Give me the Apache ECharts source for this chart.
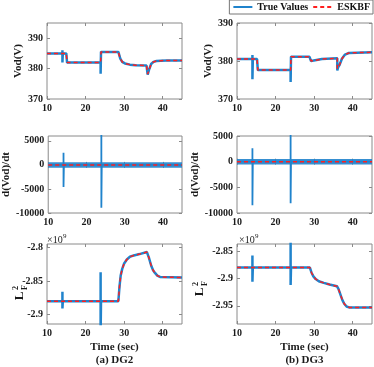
<!DOCTYPE html>
<html>
<head>
<meta charset="utf-8">
<script src="https://cdn.jsdelivr.net/npm/echarts@6.0.0/dist/echarts.min.js"></script>
<style>
  html, body { margin: 0; padding: 0; background: #fff; }
  #main { width: 374px; height: 367px; }
</style>
</head>
<body>
<div id="main"></div>
<script>
// tick labels
var xTicks = [10, 20, 30, 40];
var vodTicks = [370, 380, 390];
var dvTicks = [-10000, -5000, 0, 5000];
var lTicks2 = [-2.9, -2.85, -2.8];
var lTicks3 = [-2.95, -2.9, -2.85];

// Vod, DG2
var tVod2    = [10, 14, 14, 14, 14.1, 15.0, 15.2, 23.9, 23.9, 24.0, 28.5, 29.0, 29.5, 30.2, 31.5, 33.0, 35.8, 36.1, 36.5, 37.0, 37.6, 38.4, 39.5, 41.0, 45];
var vodTrue2 = [385, 385, 386, 382, 385, 385, 382, 382, 378.3, 385.5, 385.5, 383.3, 382.2, 381.7, 381.3, 381.1, 381.0, 378.0, 379.8, 381.5, 382.2, 382.5, 382.6, 382.7, 382.7];
var vodEst2  = [385, 385, 385, 385, 385, 385, 382, 382, 382, 385.5, 385.5, 383.3, 382.2, 381.7, 381.3, 381.1, 381.0, 378.2, 379.8, 381.5, 382.2, 382.5, 382.6, 382.7, 382.7];

// Vod, DG3
var tVod3    = [10, 14, 14, 14, 14.1, 15.2, 15.4, 23.9, 23.9, 24.0, 28.8, 29.2, 29.6, 32.0, 36.0, 36.0, 36.2, 36.6, 37.2, 38.0, 39.0, 41.0, 45];
var vodTrue3 = [380.5, 380.5, 381.6, 375.2, 380.5, 380.5, 377.6, 377.6, 374.5, 381.1, 381.1, 380.0, 380.2, 380.5, 380.7, 377.5, 378.3, 379.0, 380.6, 381.7, 382.1, 382.2, 382.3];
var vodEst3  = [380.5, 380.5, 380.5, 380.5, 380.5, 380.5, 377.6, 377.6, 377.6, 381.1, 381.1, 380.0, 380.2, 380.5, 380.7, 378.0, 378.3, 379.0, 380.6, 381.7, 382.1, 382.2, 382.3];

// d(Vod)/dt
var tDv     = [10, 14, 14, 14, 14.1, 23.9, 23.9, 23.9, 24.0, 45];
var dvTrue2 = [0, 0, 2500, -4600, 0, 0, 7000, -8900, 0, 0];
var dvTrue3 = [0, 0, 2600, -8500, 0, 0, 5500, -8100, 0, 0];
var tDvEst  = [10, 45];
var dvEst   = [0, 0];

// L_F^2 (x 1e9), DG2
var tL2    = [10, 14, 14, 14, 14.1, 23.9, 23.9, 23.9, 24.0, 28.5, 28.8, 29.1, 29.5, 30.0, 30.7, 31.5, 32.5, 34.0, 35.9, 36.4, 37.0, 37.5, 38.0, 38.6, 39.3, 45];
var lTrue2 = [-2.88, -2.88, -2.866, -2.891, -2.88, -2.88, -2.837, -2.93, -2.88, -2.88, -2.858, -2.842, -2.832, -2.824, -2.818, -2.814, -2.812, -2.810, -2.807, -2.815, -2.827, -2.834, -2.838, -2.842, -2.844, -2.845];
var lEst2  = [-2.88, -2.88, -2.88, -2.88, -2.88, -2.88, -2.88, -2.88, -2.88, -2.88, -2.858, -2.842, -2.832, -2.824, -2.818, -2.814, -2.812, -2.810, -2.807, -2.815, -2.827, -2.834, -2.838, -2.842, -2.844, -2.845];

// L_F^2 (x 1e9), DG3
var tL3    = [10, 14, 14, 14, 14.1, 23.9, 23.9, 23.9, 24.0, 28.9, 29.3, 29.8, 30.4, 31.2, 32.5, 34.0, 35.9, 36.3, 36.8, 37.3, 37.8, 38.4, 39.2, 45];
var lTrue3 = [-2.88, -2.88, -2.858, -2.906, -2.88, -2.88, -2.83, -2.912, -2.88, -2.88, -2.889, -2.896, -2.901, -2.905, -2.908, -2.911, -2.914, -2.919, -2.929, -2.939, -2.946, -2.951, -2.953, -2.953];
var lEst3  = [-2.88, -2.88, -2.88, -2.88, -2.88, -2.88, -2.88, -2.88, -2.88, -2.88, -2.889, -2.896, -2.901, -2.905, -2.908, -2.911, -2.914, -2.919, -2.929, -2.939, -2.946, -2.951, -2.953, -2.953];

var FONT = 'Liberation Serif';
var BLUE = '#2083cc';
var RED = '#ff1f1f';
var AXIS = '#8a8a8a';
var INK = '#1a1a1a';

function pairs(t, v) {
  return t.map(function (x, k) { return [x, v[k]]; });
}

var panels = [
  { left: 47,  top: 23,  h: 76, yr: [370, 395], ticks: vodTicks, name: 'Vod(V)', gap: 17, t: tVod2, y: vodTrue2, te: tVod2, ye: vodEst2 },
  { left: 237, top: 23,  h: 76, yr: [370, 390], ticks: vodTicks, name: 'Vod(V)', gap: 17, t: tVod3, y: vodTrue3, te: tVod3, ye: vodEst3 },
  { left: 47,  top: 136, h: 77, yr: [-10000, 6000], ticks: dvTicks, name: 'd(Vod)/dt', gap: 19, t: tDv, y: dvTrue2, te: tDvEst, ye: dvEst, band: true },
  { left: 237, top: 136, h: 77, yr: [-10000, 5000], ticks: dvTicks, name: 'd(Vod)/dt', gap: 21, t: tDv, y: dvTrue3, te: tDvEst, ye: dvEst, band: true },
  { left: 47,  top: 244, h: 80, yr: [-2.914, -2.795], ticks: lTicks2, name: '', gap: 20, t: tL2, y: lTrue2, te: tL2, ye: lEst2, bottom: true },
  { left: 237, top: 244, h: 80, yr: [-2.983, -2.837], ticks: lTicks3, name: '', gap: 20, t: tL3, y: lTrue3, te: tL3, ye: lEst3, bottom: true }
];

var tickStyle = { color: AXIS, width: 1 };
function plain(v) { return String(v); }
function labelOpt(ticks) {
  return { customValues: ticks, margin: 4, formatter: plain,
    fontFamily: FONT, fontWeight: 'bold', fontSize: 10, color: INK };
}

var grid = [], xAxis = [], yAxis = [], trueSeries = [], estSeries = [];

panels.forEach(function (p, i) {
  grid.push({ left: p.left, top: p.top, width: 135, height: p.h, show: true,
    borderColor: AXIS, borderWidth: 1, backgroundColor: '#fff' });
  xAxis.push({
    gridIndex: i, type: 'value', min: 10, max: 45,
    axisLine: { show: false },
    axisTick: { inside: true, length: 3, customValues: xTicks, lineStyle: tickStyle },
    axisLabel: labelOpt(xTicks),
    splitLine: { show: false },
    name: p.bottom ? 'Time (sec)' : '', nameLocation: 'middle', nameGap: 18,
    nameTextStyle: { fontFamily: FONT, fontWeight: 'bold', fontSize: 11, color: INK }
  });
  yAxis.push({
    gridIndex: i, type: 'value', min: p.yr[0], max: p.yr[1],
    axisLine: { show: false },
    axisTick: { inside: true, length: 3, customValues: p.ticks, lineStyle: tickStyle },
    axisLabel: labelOpt(p.ticks),
    splitLine: { show: false },
    name: p.name, nameLocation: 'middle', nameGap: p.gap,
    nameTextStyle: { fontFamily: FONT, fontWeight: 'bold', fontSize: 11, color: INK }
  });
  trueSeries.push({
    name: 'True Values', type: 'line', xAxisIndex: i, yAxisIndex: i,
    data: pairs(p.t, p.y), symbol: 'none', animation: false,
    lineStyle: { color: BLUE, width: p.band ? 1.8 : 2.5 }, itemStyle: { color: BLUE }
  });
  if (p.band) {
    trueSeries.push({
      name: 'True Values', type: 'line', xAxisIndex: i, yAxisIndex: i,
      data: pairs(tDvEst, dvEst), symbol: 'none', animation: false,
      lineStyle: { color: BLUE, width: 5.5, opacity: 0.9 }, itemStyle: { color: BLUE }
    });
  }
  estSeries.push({
    name: 'ESKBF', type: 'line', xAxisIndex: i, yAxisIndex: i,
    data: pairs(p.te, p.ye), symbol: 'none', animation: false,
    lineStyle: { color: RED, width: 1.5, type: [4, 3] }, itemStyle: { color: RED }
  });
});

// ticks on the top and right edges (box style)
panels.forEach(function (p, i) {
  xAxis.push({ gridIndex: i, type: 'value', min: 10, max: 45, position: 'top',
    axisLine: { show: false }, axisLabel: { show: false }, splitLine: { show: false },
    axisTick: { inside: true, length: 3, customValues: xTicks, lineStyle: tickStyle } });
  yAxis.push({ gridIndex: i, type: 'value', min: p.yr[0], max: p.yr[1], position: 'right',
    axisLine: { show: false }, axisLabel: { show: false }, splitLine: { show: false },
    axisTick: { inside: true, length: 3, customValues: p.ticks, lineStyle: tickStyle } });
});

function lfName(cx, cy) {
  return {
    type: 'group', x: cx, y: cy, rotation: Math.PI / 2,
    children: [
      { type: 'text', x: 0, y: 0, style: { text: 'L', font: 'bold 13px ' + FONT, fill: INK, align: 'center', verticalAlign: 'middle' } },
      { type: 'text', x: 6, y: -4, style: { text: '2', font: 'bold 8px ' + FONT, fill: INK, align: 'left', verticalAlign: 'middle' } },
      { type: 'text', x: 6, y: 5, style: { text: 'F', font: 'bold 8px ' + FONT, fill: INK, align: 'left', verticalAlign: 'middle' } }
    ]
  };
}

function expLabel(x, y) {
  return {
    type: 'group', x: x, y: y,
    children: [
      { type: 'text', x: 0, y: 0, style: { text: '×10', font: '10px ' + FONT, fill: INK, verticalAlign: 'middle' } },
      { type: 'text', x: 16, y: -4, style: { text: '9', font: '7px ' + FONT, fill: INK, verticalAlign: 'middle' } }
    ]
  };
}

var myChart = echarts.init(document.getElementById('main'));
var option = {
  animation: false,
  backgroundColor: '#fff',
  textStyle: { fontFamily: FONT },
  legend: {
    data: ['True Values', 'ESKBF'], right: 1, top: 0,
    padding: [2, 3, 2, 3], itemGap: 4, itemWidth: 19, itemHeight: 10,
    borderColor: '#777', borderWidth: 1, backgroundColor: '#fff',
    itemStyle: { opacity: 0 },
    textStyle: { fontFamily: FONT, fontWeight: 'bold', fontSize: 10, color: '#111' }
  },
  grid: grid,
  xAxis: xAxis,
  yAxis: yAxis,
  series: trueSeries.concat(estSeries),
  graphic: [
    lfName(20, 296), lfName(200, 292),
    expLabel(47, 240), expLabel(239, 240),
    { type: 'text', x: 114.5, y: 360, style: { text: '(a) DG2', font: 'bold 11px ' + FONT, fill: INK, align: 'center', verticalAlign: 'middle' } },
    { type: 'text', x: 304.5, y: 360, style: { text: '(b) DG3', font: 'bold 11px ' + FONT, fill: INK, align: 'center', verticalAlign: 'middle' } }
  ]
};
myChart.setOption(option);
</script>
</body>
</html>
